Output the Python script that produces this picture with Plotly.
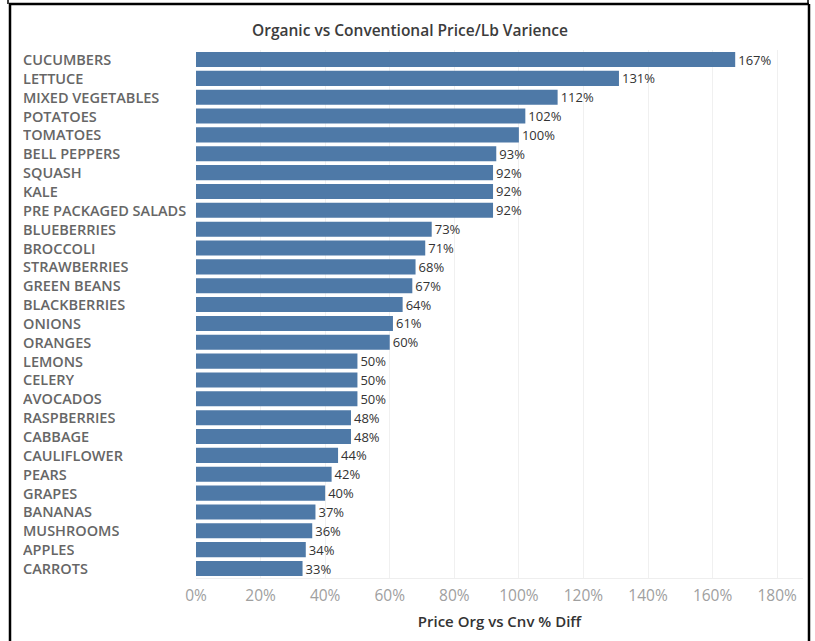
import plotly.graph_objects as go

categories = ["CUCUMBERS", "LETTUCE", "MIXED VEGETABLES", "POTATOES", "TOMATOES",
              "BELL PEPPERS", "SQUASH", "KALE", "PRE PACKAGED SALADS", "BLUEBERRIES",
              "BROCCOLI", "STRAWBERRIES", "GREEN BEANS", "BLACKBERRIES", "ONIONS",
              "ORANGES", "LEMONS", "CELERY", "AVOCADOS", "RASPBERRIES", "CABBAGE",
              "CAULIFLOWER", "PEARS", "GRAPES", "BANANAS", "MUSHROOMS", "APPLES", "CARROTS"]
pct_diff = [167, 131, 112, 102, 100, 93, 92, 92, 92, 73, 71, 68, 67, 64, 61,
            60, 50, 50, 50, 48, 48, 44, 42, 40, 37, 36, 34, 33]
tick_vals = [0, 20, 40, 60, 80, 100, 120, 140, 160, 180]
tick_text = ["0%", "20%", "40%", "60%", "80%", "100%", "120%", "140%", "160%", "180%"]

W, H = 815, 641
ML, MR, MT, MB = 196, 12, 50, 63
PW = W - ML - MR
PH = H - MT - MB

def px_x(p):
    return (p - ML) / PW

def px_y(p):
    return (H - MB - p) / PH

fig = go.Figure(go.Bar(
    x=pct_diff, y=categories, orientation="h",
    marker=dict(color="#4e79a7", line=dict(width=0)),
    width=0.8,
    text=[f"{v}%" for v in pct_diff], textposition="outside",
    constraintext="none",
    textfont=dict(family="Open Sans", size=13, color="#333333"),
    cliponaxis=False,
))

annotations = []
for c in categories:
    annotations.append(dict(
        x=px_x(22), xref="paper", y=c, yref="y", text=c, showarrow=False,
        xanchor="left", yanchor="middle", borderpad=0, height=17,
        font=dict(family="Open Sans", size=14.5, color="#666666", weight=600),
    ))

fig.update_layout(
    width=W, height=H,
    margin=dict(l=ML, r=MR, t=MT, b=MB, autoexpand=False),
    paper_bgcolor="white", plot_bgcolor="white",
    title=dict(text="Organic vs Conventional Price/Lb Varience", x=410 / W, xref="container",
               xanchor="center", y=1 - 31 / H, yanchor="middle",
               font=dict(family="Open Sans", size=15.5, color="#3c3c3c", weight=600)),
    xaxis=dict(range=[0, 188], tickvals=tick_vals, ticktext=tick_text,
               showgrid=True, gridcolor="#f0f0f0", gridwidth=1, automargin=False,
               zeroline=False, showline=True, linecolor="#eeeeee",
               ticks="", ticklen=0, ticklabelstandoff=3,
               tickfont=dict(family="Open Sans", size=15.5, color="#a0a0a0"),
               title=dict(text="Price Org vs Cnv % Diff", standoff=11,
                          font=dict(family="Open Sans", size=15, color="#333333", weight=600))),
    yaxis=dict(autorange="reversed", showticklabels=False, showgrid=False, automargin=False,
               zeroline=False, showline=False, ticks=""),
    bargap=0.2,
    showlegend=False,
    annotations=annotations,
    shapes=[
        dict(type="line", xref="paper", yref="paper", x0=px_x(9), x1=px_x(809),
             y0=px_y(4), y1=px_y(4), line=dict(color="black", width=2.5)),
        dict(type="line", xref="paper", yref="paper", x0=px_x(10), x1=px_x(10),
             y0=px_y(4), y1=px_y(645), line=dict(color="black", width=2.5)),
        dict(type="line", xref="paper", yref="paper", x0=px_x(809), x1=px_x(809),
             y0=px_y(4), y1=px_y(645), line=dict(color="black", width=2.5)),
        dict(type="line", xref="paper", yref="paper", x0=px_x(8), x1=px_x(8),
             y0=px_y(-2), y1=px_y(4), line=dict(color="black", width=1.5)),
        dict(type="line", xref="paper", yref="paper", x0=px_x(808), x1=px_x(808),
             y0=px_y(-2), y1=px_y(4), line=dict(color="black", width=1.5)),
    ],
)

fig.write_html("out.html", config={"displayModeBar": False},
               post_script="document.body.style.margin='0';document.body.style.overflow='hidden';")
